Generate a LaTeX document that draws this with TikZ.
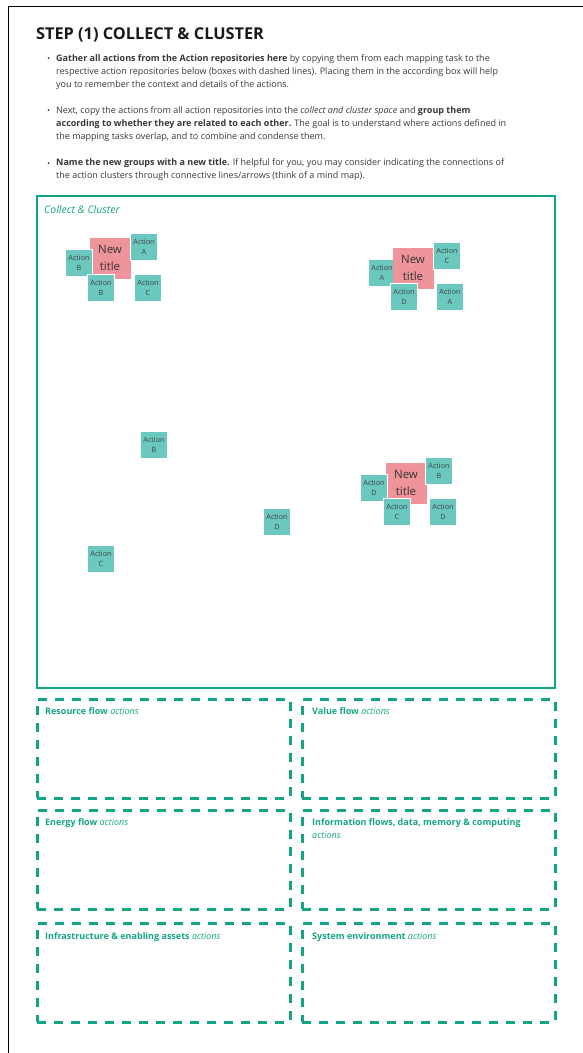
\documentclass[tikz,border=0pt]{standalone}
\usepackage{fontspec}
\setmainfont{Open Sans}
\definecolor{clustergreen}{RGB}{19,165,131}
\definecolor{stickyteal}{RGB}{106,200,190}
\definecolor{stickypink}{RGB}{240,148,155}
\definecolor{bodygray}{RGB}{55,55,55}
\tikzset{
  sticky/.style={rectangle, fill=stickyteal, draw=white, line width=0.5pt, minimum size=27pt, inner sep=0pt, align=center, font=\fontsize{7.2}{10.5}\selectfont, text=black!75},
  newtitle/.style={rectangle, fill=stickypink, minimum size=41pt, inner sep=0pt, align=center, font=\fontsize{11.5}{16.5}\selectfont, text=black!80},
  repo/.style={rectangle, draw=clustergreen, line width=3pt, dash pattern=on 9pt off 8pt, minimum width=253pt, minimum height=99pt},
  repolabel/.style={anchor=base west, inner sep=0pt, align=left, text=clustergreen, font=\fontsize{9}{13}\selectfont},
  bullettext/.style={anchor=base west, inner sep=0pt, align=left, text=bodygray, font=\fontsize{9}{13}\selectfont},
  bulletdot/.style={circle, fill=bodygray, inner sep=0pt, minimum size=2pt}
}
\begin{document}
\begin{tikzpicture}[x=1pt, y=-1pt]
      \useasboundingbox (0,0) rectangle (583,1053);
      \draw[line width=1pt] (8,1053) -- (8,6) -- (583,6);

      % Header
      \node (title) at (36,39) [anchor=base west, inner sep=0pt, font=\fontsize{16.3}{20}\selectfont\bfseries, text=black!90] {STEP (1) COLLECT \& CLUSTER};

      % Bullets (base = last line)
      \node (dotA) at (48.5,58) [bulletdot] {};
      \node (textA) at (56,87) [bullettext] {\textbf{Gather all actions from the Action repositories here} by copying them from each mapping task to the\\respective action repositories below (boxes with dashed lines). Placing them in the according box will help\\you to remember the context and details of the actions.};

      \node (dotB) at (48.5,110) [bulletdot] {};
      \node (textB) at (56,139) [bullettext] {Next, copy the actions from all action repositories into the \textit{collect and cluster space} and \textbf{group them}\\\textbf{according to whether they are related to each other.} The goal is to understand where actions defined in\\the mapping tasks overlap, and to combine and condense them.};

      \node (dotC) at (48.5,163) [bulletdot] {};
      \node (textC) at (56,178) [bullettext] {\textbf{Name the new groups with a new title.} If helpful for you, you may consider indicating the connections of\\the action clusters through connective lines/arrows (think of a mind map).};

      % Collect and cluster space
      \node (space) at (296,442) [rectangle, draw=clustergreen, line width=2.5pt, minimum width=518pt, minimum height=492pt] {};
      \node (spacelabel) at (44,213) [anchor=base west, inner sep=0pt, text=clustergreen, font=\fontsize{10.5}{12}\selectfont\itshape] {Collect \& Cluster};

      % Cluster 1
      \node (onenew) at (110,258) [newtitle] {New\\title};
      \node (oneA) at (144,247) [sticky] {Action\\A};
      \node (oneB) at (79,263) [sticky] {Action\\B};
      \node (oneBb) at (101,288) [sticky] {Action\\B};
      \node (oneC) at (148,288) [sticky] {Action\\C};

      % Cluster 2
      \node (twoA) at (382,273) [sticky] {Action\\A};
      \node (twonew) at (413,268) [newtitle] {New\\title};
      \node (twoC) at (447,256) [sticky] {Action\\C};
      \node (twoD) at (404,297) [sticky] {Action\\D};
      \node (twoAb) at (450,297) [sticky] {Action\\A};

      % Cluster 3
      \node (threenew) at (406,483) [newtitle] {New\\title};
      \node (threeB) at (439,471) [sticky] {Action\\B};
      \node (threeD) at (374,488) [sticky] {Action\\D};
      \node (threeC) at (397,512) [sticky] {Action\\C};
      \node (threeDb) at (443,512) [sticky] {Action\\D};

      % Loose actions
      \node (looseB) at (154,445) [sticky] {Action\\B};
      \node (looseD) at (277,522) [sticky] {Action\\D};
      \node (looseC) at (101,559) [sticky] {Action\\C};

      % Action repositories
      \node (resource) at (163.5,748.5) [repo] {};
      \node (value) at (428.5,748.5) [repo] {};
      \node (energy) at (163.5,859.5) [repo] {};
      \node (information) at (428.5,859.5) [repo] {};
      \node (infrastructure) at (163.5,972.5) [repo] {};
      \node (environment) at (428.5,972.5) [repo] {};

      \node (resourcelabel) at (45,714) [repolabel] {\textbf{Resource flow} \textit{actions}};
      \node (valuelabel) at (312,714) [repolabel] {\textbf{Value flow} \textit{actions}};
      \node (energylabel) at (45,825) [repolabel] {\textbf{Energy flow} \textit{actions}};
      \node (informationlabel) at (312,838) [repolabel] {\textbf{Information flows, data, memory \& computing}\\\textit{actions}};
      \node (infrastructurelabel) at (45,939) [repolabel] {\textbf{Infrastructure \& enabling assets} \textit{actions}};
      \node (environmentlabel) at (312,939) [repolabel] {\textbf{System environment} \textit{actions}};
    \end{tikzpicture}
\end{document}
